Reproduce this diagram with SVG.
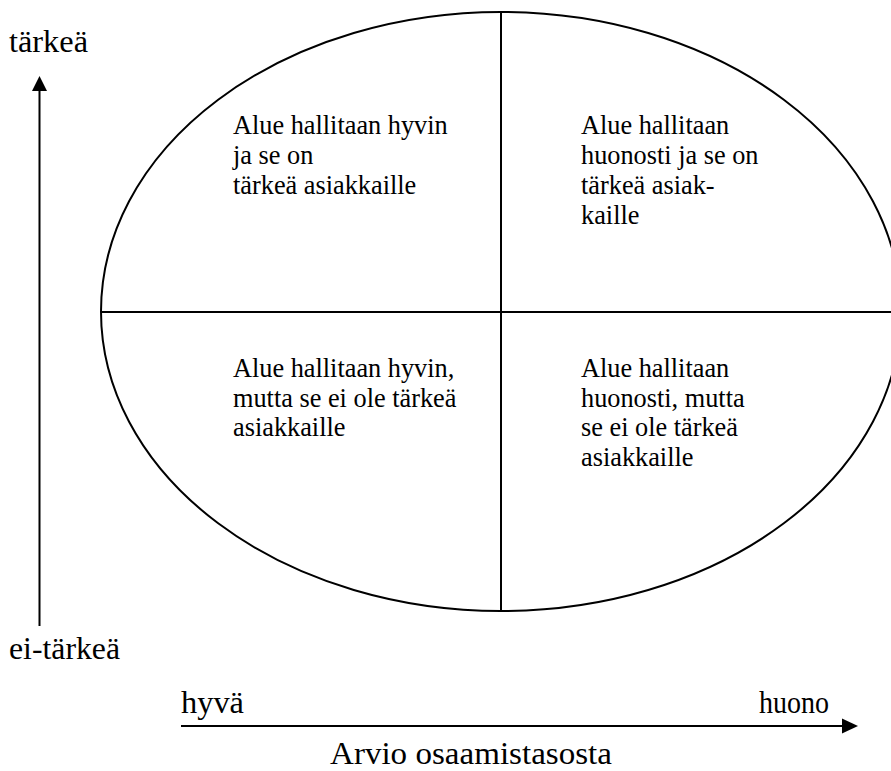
<svg xmlns="http://www.w3.org/2000/svg" width="891" height="771" viewBox="0 0 891 771">
  <style>
    .lbl { font-family: "Liberation Serif", "Times New Roman", serif; fill: #000; }
    .axis { font-size: 31px; }
    .body { font-size: 26.3px; }
    .line { stroke: #000; stroke-width: 2; fill: none; }
  </style>
  <rect width="891" height="771" fill="#fff"/>

  <!-- quadrant ellipse -->
  <g id="quadrants">
    <ellipse cx="501" cy="311.5" rx="400" ry="299.5" class="line" stroke-width="1.8"/>
    <line x1="501" y1="12" x2="501" y2="611" class="line"/>
    <line x1="101" y1="312" x2="891" y2="312" class="line"/>
  </g>

  <g id="q-top-left">
    <text class="lbl body" x="233" y="134">Alue hallitaan hyvin</text>
    <text class="lbl body" x="233" y="164">ja se on</text>
    <text class="lbl body" x="233" y="194">tärkeä asiakkaille</text>
  </g>
  <g id="q-top-right">
    <text class="lbl body" x="581" y="134">Alue hallitaan</text>
    <text class="lbl body" x="581" y="164">huonosti ja se on</text>
    <text class="lbl body" x="581" y="194">tärkeä asiak-</text>
    <text class="lbl body" x="581" y="223.5">kaille</text>
  </g>
  <g id="q-bottom-left">
    <text class="lbl body" x="233" y="377">Alue hallitaan hyvin,</text>
    <text class="lbl body" x="233" y="406.5">mutta se ei ole tärkeä</text>
    <text class="lbl body" x="233" y="436">asiakkaille</text>
  </g>
  <g id="q-bottom-right">
    <text class="lbl body" x="581" y="377">Alue hallitaan</text>
    <text class="lbl body" x="581" y="406.5">huonosti, mutta</text>
    <text class="lbl body" x="581" y="436">se ei ole tärkeä</text>
    <text class="lbl body" x="581" y="465.5">asiakkaille</text>
  </g>

  <!-- axes -->
  <g id="connectors">
    <line x1="39.5" y1="626" x2="39.5" y2="90" class="line"/>
    <path d="M39.5,76 L47,91 L32,91 Z" fill="#000"/>
    <line x1="181" y1="726" x2="843" y2="726" class="line"/>
    <path d="M858,726 L842,718.5 L842,733.5 Z" fill="#000"/>
  </g>

  <g id="axis-labels">
    <text class="lbl axis" x="9" y="52" textLength="79" lengthAdjust="spacingAndGlyphs">tärkeä</text>
    <text class="lbl axis" x="9" y="659" textLength="111" lengthAdjust="spacingAndGlyphs">ei-tärkeä</text>
    <text class="lbl axis" x="181" y="713" textLength="63" lengthAdjust="spacingAndGlyphs">hyvä</text>
    <text class="lbl axis" x="759" y="713" textLength="70" lengthAdjust="spacingAndGlyphs">huono</text>
    <text class="lbl axis" x="330" y="764" textLength="282" lengthAdjust="spacingAndGlyphs">Arvio osaamistasosta</text>
  </g>
</svg>
